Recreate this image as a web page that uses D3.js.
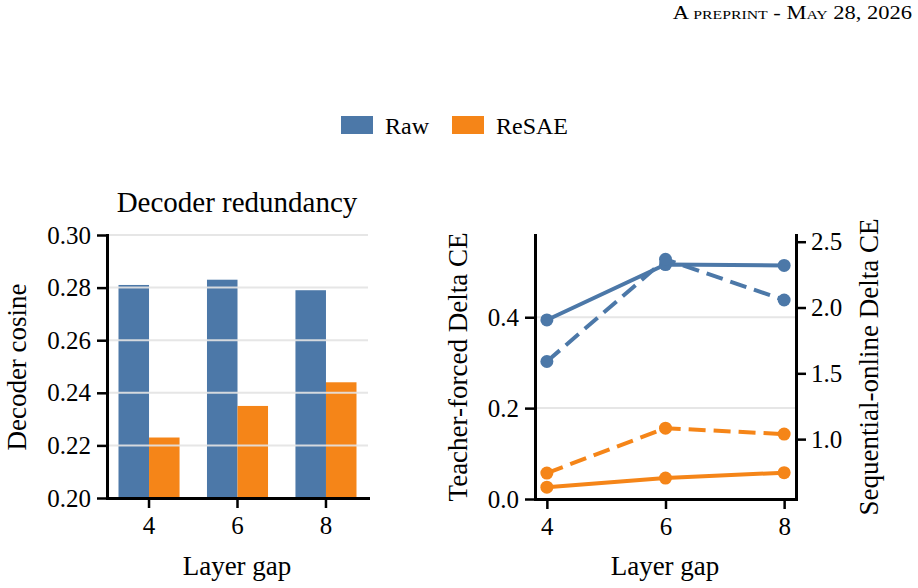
<!DOCTYPE html>
<html>
<head>
<meta charset="utf-8">
<script src="https://cdn.jsdelivr.net/npm/d3@7"></script>
<style>
  html, body { margin: 0; padding: 0; background: #fff; }
  svg { display: block; font-family: "Liberation Serif", "Times New Roman", serif; }
</style>
</head>
<body>
<svg width="918" height="588"></svg>
<script>
// данные
const gaps = [4, 6, 8];
const seriesNames = ["Raw", "ReSAE"];
const rawCosine = [0.281, 0.283, 0.279];
const resaeCosine = [0.223, 0.235, 0.244];
const rawTeacher = [0.394, 0.516, 0.514];
const resaeTeacher = [0.026, 0.046, 0.058];
const rawOnline = [1.59, 2.366, 2.057];
const resaeOnline = [0.742, 1.083, 1.038];
const cosineTicks = [0.20, 0.22, 0.24, 0.26, 0.28, 0.30];
const teacherTicks = [0.0, 0.2, 0.4];
const onlineTicks = [1.0, 1.5, 2.0, 2.5];

const colors = { Raw: "#4c78a8", ReSAE: "#f58518" };
const svg = d3.select("svg");

// шапка страницы (малые прописные, шрифт в оригинале шире)
const header = svg.append("text")
    .attr("transform", "translate(912,19) scale(1.25,1)")
    .attr("text-anchor", "end")
    .style("font-size", "18px");
[["A ", 18], ["PREPRINT", 12.6], [" - M", 18], ["AY", 12.6], [" 28, 2026", 18]].forEach(p => {
    header.append("tspan").style("font-size", p[1] + "px").text(p[0]);
});

// легенда
const legend = [{ name: "Raw", x: 341 }, { name: "ReSAE", x: 452 }];
legend.forEach(l => {
    svg.append("rect").attr("x", l.x).attr("y", 116).attr("width", 32).attr("height", 18)
        .style("fill", colors[l.name]);
    svg.append("text").attr("x", l.x + 44).attr("y", 134)
        .style("font-size", "24px").text(l.name);
});

function styleAxis(g) {
    g.select(".domain").attr("stroke-width", 3).attr("stroke-linecap", "square");
    g.selectAll(".tick line").attr("stroke-width", 2.5);
    g.selectAll(".tick text").style("font-size", "25px").style("font-family", "Liberation Serif");
}

function drawBars() {
    const left = 107, right = 368, top = 235, bottom = 498;

    let scX = d3.scaleBand().domain(gaps).range([left, right])
        .paddingInner(0.31).paddingOuter(0.13);
    let scSeries = d3.scaleBand().domain(seriesNames).range([0, scX.bandwidth()]);
    let scY = d3.scaleLinear().domain([0.2, 0.3]).range([bottom, top]);

    const barData = [];
    gaps.forEach((g, i) => {
        barData.push({ gap: g, name: "Raw", value: rawCosine[i] });
        barData.push({ gap: g, name: "ReSAE", value: resaeCosine[i] });
    });

    svg.append("g").selectAll("rect")
        .data(barData)
        .enter()
        .append("rect")
        .attr("x", d => scX(d.gap) + scSeries(d.name))
        .attr("y", d => scY(d.value))
        .attr("width", scSeries.bandwidth())
        .attr("height", d => bottom - scY(d.value))
        .style("fill", d => colors[d.name]);

    // сетка поверх столбцов
    svg.append("g").selectAll("line")
        .data(cosineTicks.slice(1))
        .enter()
        .append("line")
        .attr("x1", left).attr("x2", right)
        .attr("y1", d => scY(d)).attr("y2", d => scY(d))
        .attr("stroke", "#e4e4e4").attr("stroke-width", 2).attr("opacity", 0.9);

    svg.append("g")
        .attr("transform", `translate(${left},0)`)
        .call(d3.axisLeft(scY).tickValues(cosineTicks).tickFormat(d3.format(".2f"))
            .tickSize(10).tickSizeOuter(0).tickPadding(6))
        .call(styleAxis);

    svg.append("g")
        .attr("transform", `translate(0,${bottom})`)
        .call(d3.axisBottom(scX).tickSize(10).tickSizeOuter(0).tickPadding(8))
        .call(styleAxis);

    svg.append("text").attr("x", 237).attr("y", 212).attr("text-anchor", "middle")
        .style("font-size", "29px").text("Decoder redundancy");
    svg.append("text").attr("x", 237).attr("y", 575).attr("text-anchor", "middle")
        .style("font-size", "27px").text("Layer gap");
    svg.append("text").attr("transform", "translate(26,367) rotate(-90)")
        .attr("text-anchor", "middle").style("font-size", "27px").text("Decoder cosine");
}

function drawLines() {
    const left = 535, right = 796, top = 235, bottom = 499;

    let scX = d3.scaleLinear().domain([3.8, 8.2]).range([left, right]);
    let scYL = d3.scaleLinear().domain([0, 0.581]).range([bottom, top]);
    let scYR = d3.scaleLinear().domain([0.545, 2.551]).range([bottom, top]);

    // сетка по левой оси
    svg.append("g").selectAll("line")
        .data(teacherTicks.slice(1))
        .enter()
        .append("line")
        .attr("x1", left).attr("x2", right)
        .attr("y1", d => scYL(d)).attr("y2", d => scYL(d))
        .attr("stroke", "#e6e6e6").attr("stroke-width", 2);

    const series = [
        { values: rawTeacher, scale: scYL, color: colors.Raw, dash: null },
        { values: resaeTeacher, scale: scYL, color: colors.ReSAE, dash: null },
        { values: rawOnline, scale: scYR, color: colors.Raw, dash: "17,8" },
        { values: resaeOnline, scale: scYR, color: colors.ReSAE, dash: "17,8" }
    ];

    series.forEach(s => {
        const pts = gaps.map((g, i) => ({ x: g, y: s.values[i] }));
        const line = d3.line().x(d => scX(d.x)).y(d => s.scale(d.y));
        const g = svg.append("g");
        g.append("path")
            .attr("d", line(pts))
            .attr("fill", "none")
            .attr("stroke", s.color)
            .attr("stroke-width", 4)
            .attr("stroke-dasharray", s.dash);
        g.selectAll("circle")
            .data(pts)
            .enter()
            .append("circle")
            .attr("cx", d => scX(d.x))
            .attr("cy", d => s.scale(d.y))
            .attr("r", 6.5)
            .style("fill", s.color);
    });

    svg.append("g")
        .attr("transform", `translate(${left},0)`)
        .call(d3.axisLeft(scYL).tickValues(teacherTicks).tickFormat(d3.format(".1f"))
            .tickSize(10).tickSizeOuter(0).tickPadding(6))
        .call(styleAxis);

    svg.append("g")
        .attr("transform", `translate(${right},0)`)
        .call(d3.axisRight(scYR).tickValues(onlineTicks).tickFormat(d3.format(".1f"))
            .tickSize(10).tickSizeOuter(0).tickPadding(5))
        .call(styleAxis);

    svg.append("g")
        .attr("transform", `translate(0,${bottom})`)
        .call(d3.axisBottom(scX).tickValues(gaps).tickFormat(d3.format("d"))
            .tickSize(10).tickSizeOuter(0).tickPadding(8))
        .call(styleAxis);

    svg.append("text").attr("x", 665).attr("y", 575).attr("text-anchor", "middle")
        .style("font-size", "27px").text("Layer gap");
    svg.append("text").attr("transform", "translate(467,367) rotate(-90)")
        .attr("text-anchor", "middle").style("font-size", "27px").text("Teacher-forced Delta CE");
    svg.append("text").attr("transform", "translate(878,367) rotate(-90)")
        .attr("text-anchor", "middle").style("font-size", "27px").text("Sequential-online Delta CE");
}

drawBars();
drawLines();
</script>
</body>
</html>
